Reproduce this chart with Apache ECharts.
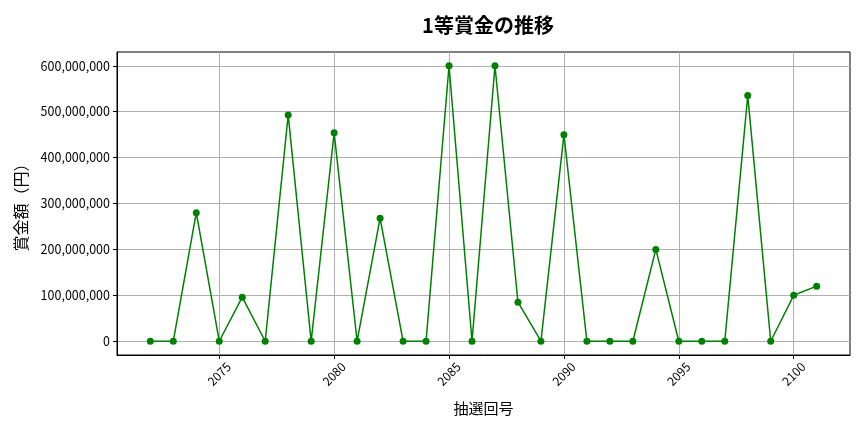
<!DOCTYPE html>
<html lang="ja">
<head>
    <meta charset="UTF-8">
    <title>1等賞金の推移</title>
    <script src="https://cdn.jsdelivr.net/npm/echarts@6/dist/echarts.min.js"></script>
    <style>
        html, body { margin: 0; padding: 0; background: #fff; }
        #main { width: 864px; height: 432px; }
    </style>
</head>
<body>
<div id="main"></div>
<script type="text/javascript">
    // 抽選回号
    var kaigo = [2072, 2073, 2074, 2075, 2076, 2077, 2078, 2079, 2080, 2081,
                 2082, 2083, 2084, 2085, 2086, 2087, 2088, 2089, 2090, 2091,
                 2092, 2093, 2094, 2095, 2096, 2097, 2098, 2099, 2100, 2101];
    // 1等賞金（円）
    var shokin = [0, 0, 280000000, 0, 96000000, 0, 493000000, 0, 454000000, 0,
                  268000000, 0, 0, 600000000, 0, 600000000, 85000000, 0, 450000000, 0,
                  0, 0, 200000000, 0, 0, 0, 535000000, 0, 100000000, 120000000];
    var xTicks = [2075, 2080, 2085, 2090, 2095, 2100];
    var yTicks = [0, 100000000, 200000000, 300000000, 400000000, 500000000, 600000000];

    var font = '"Noto Sans CJK JP", "Noto Sans", sans-serif';
    var pts = kaigo.map(function (k, i) { return [k, shokin[i]]; });

    var myChart = echarts.init(document.getElementById('main'));
    var option = {
        animation: false,
        title: {
            text: '1等賞金の推移',
            left: 483, top: 10, textAlign: 'center',
            textStyle: { fontFamily: font, fontSize: 20, fontWeight: 'bold', color: '#000' }
        },
        grid: { left: 117, right: 14, top: 52, bottom: 77, show: true, borderColor: '#000', borderWidth: 1 },
        xAxis: {
            type: 'value',
            min: 2070.55, max: 2102.45,
            name: '抽選回号',
            nameLocation: 'middle', nameGap: 46,
            nameTextStyle: { fontFamily: font, fontSize: 15, color: '#000' },
            axisLine: { onZero: false, lineStyle: { color: '#000', width: 1 } },
            axisTick: { show: true, customValues: xTicks, length: 4, lineStyle: { color: '#000' } },
            axisLabel: {
                customValues: xTicks, rotate: 45, align: 'center', verticalAlign: 'middle',
                margin: 19, fontFamily: font, fontSize: 12, color: '#000',
                formatter: function (v) { return String(v); }
            },
            splitLine: { show: true, lineStyle: { color: '#b0b0b0', width: 1 } }
        },
        yAxis: {
            type: 'value',
            min: -30000000, max: 630000000,
            name: '賞金額（円）',
            nameLocation: 'middle', nameGap: 88, nameRotate: 90,
            nameTextStyle: { fontFamily: font, fontSize: 16, color: '#000' },
            axisLine: { show: true, lineStyle: { color: '#000', width: 1 } },
            axisTick: { show: true, customValues: yTicks, length: 4, lineStyle: { color: '#000' } },
            axisLabel: {
                customValues: yTicks,
                margin: 7, fontFamily: font, fontSize: 12.5, color: '#000',
                formatter: function (v) { return Math.round(v).toLocaleString('en-US'); }
            },
            splitLine: { show: true, lineStyle: { color: '#b0b0b0', width: 1 } }
        },
        series: [{
            type: 'line',
            data: pts,
            symbol: 'circle', symbolSize: 7,
            lineStyle: { color: '#008000', width: 1.5 },
            itemStyle: { color: '#008000' }
        }]
    };
    myChart.setOption(option);
</script>
</body>
</html>
